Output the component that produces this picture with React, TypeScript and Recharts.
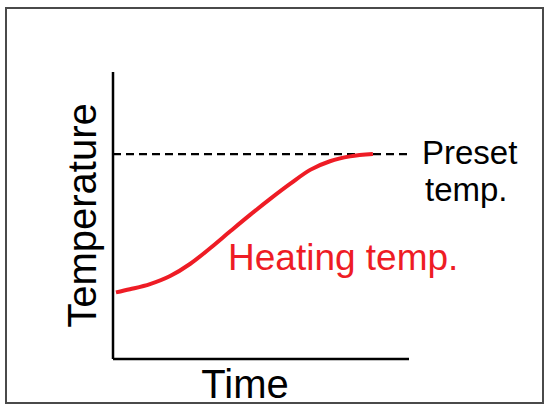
import { Customized, Label, Line, LineChart, ReferenceLine, XAxis, YAxis } from "recharts";

// time (arbitrary units, 0..100) and temperature (arbitrary units, 0..100)
const times = [1, 5.7, 12.5, 19.3, 26, 32.8, 39.5, 46.3, 53, 59.8, 66.6, 73.3, 80.1, 87.8];
const heatingTemps = [23.2, 24.3, 26.1, 28.9, 33.1, 38.6, 44.4, 50.2, 55.7, 61, 65.9, 68.9, 70.6, 71.4];
const presetTemp = 71.4;

const rows = times.map((t, i) => ({ t, temp: heatingTemps[i] }));

const FONT = "'Liberation Sans', Arial, sans-serif";

function TimeLabel(props: any) {
  const { x, y, width } = props.viewBox;
  return (
    <text x={x + width / 2 - 16} y={y + 39} textAnchor="middle" fontSize={40} fontFamily={FONT} fill="#000">
      Time
    </text>
  );
}

function TempLabel(props: any) {
  const { x, y, height } = props.viewBox;
  const cx = x + (props.viewBox.width || 0) - 17;
  const cy = y + height / 2;
  return (
    <text
      x={cx}
      y={cy}
      transform={`rotate(-90, ${cx}, ${cy})`}
      textAnchor="middle"
      fontSize={40}
      fontFamily={FONT}
      fill="#000"
    >
      Temperature
    </text>
  );
}

function PresetLabel(props: any) {
  const { x, y, width } = props.viewBox;
  return (
    <g fontSize={33} fontFamily={FONT} fill="#000">
      <text x={x + width + 13} y={y + 10}>Preset</text>
      <text x={x + width + 16} y={y + 47}>temp.</text>
    </g>
  );
}

function HeatingLabel() {
  return (
    <text x={228} y={270} fontSize={37} fontFamily={FONT} fill="#ee1c25">
      Heating temp.
    </text>
  );
}

export default function App() {
  return (
    <div style={{ position: "absolute", left: 0, top: 0, width: 550, height: 412, background: "#fff" }}>
      <div
        style={{
          position: "absolute",
          left: 5,
          top: 7,
          width: 539,
          height: 397,
          boxSizing: "border-box",
          border: "2px solid #4a4a4a",
        }}
      />
      <LineChart
        width={550}
        height={412}
        data={rows}
        margin={{ top: 72, right: 141, bottom: 52, left: 112 }}
        style={{ position: "absolute", left: 0, top: 0 }}
      >
        <XAxis
          dataKey="t"
          type="number"
          domain={[0, 100]}
          height={1}
          tick={false}
          tickLine={false}
          axisLine={{ stroke: "#000", strokeWidth: 2.5 }}
        >
          <Label content={TimeLabel} />
        </XAxis>
        <YAxis
          type="number"
          domain={[0, 100]}
          width={1}
          tick={false}
          tickLine={false}
          axisLine={{ stroke: "#000", strokeWidth: 2.5 }}
        >
          <Label content={TempLabel} />
        </YAxis>
        <ReferenceLine y={presetTemp} stroke="#000" strokeWidth={2.2} strokeDasharray="8 5">
          <Label content={PresetLabel} />
        </ReferenceLine>
        <Line
          type="monotone"
          dataKey="temp"
          stroke="#ee1c25"
          strokeWidth={4}
          dot={false}
          isAnimationActive={false}
        />
        <Customized component={HeatingLabel} />
      </LineChart>
    </div>
  );
}
